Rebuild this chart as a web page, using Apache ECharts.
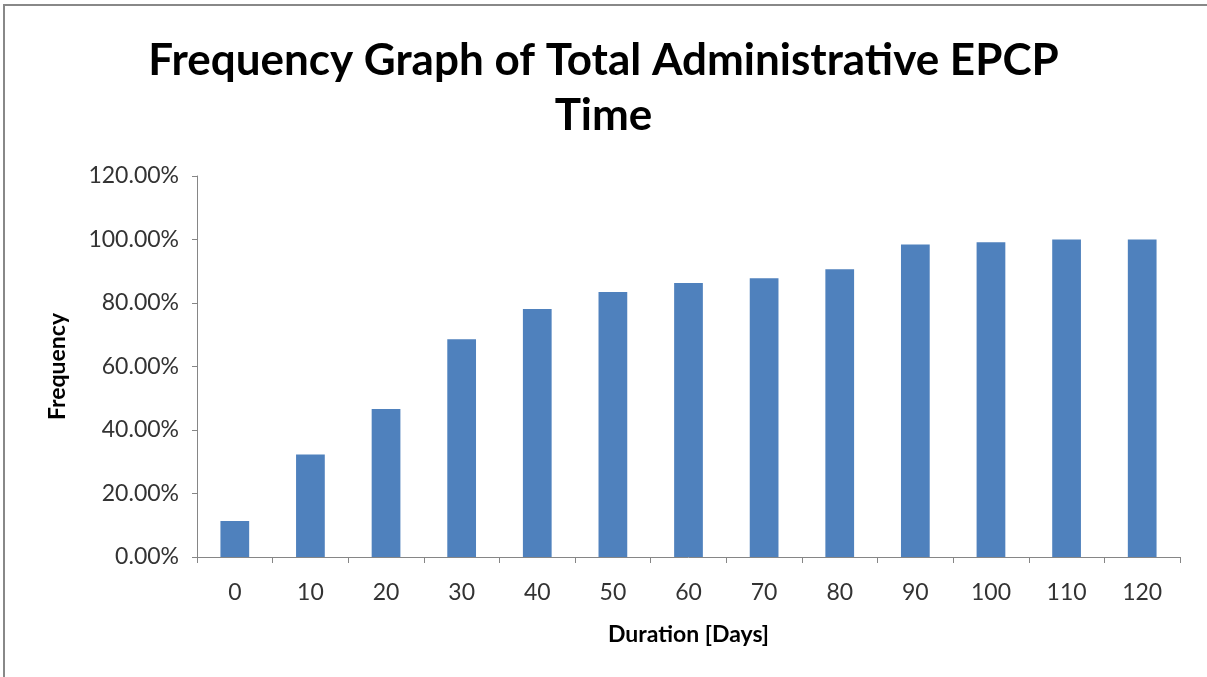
<!DOCTYPE html>
<html>
<head>
<meta charset="utf-8">
<script src="https://cdn.jsdelivr.net/npm/echarts@6/dist/echarts.min.js"></script>
<style>
  html, body { margin: 0; padding: 0; background: #fff; }
  #chart { width: 1207px; height: 677px; }
</style>
</head>
<body>
<div id="chart"></div>
<script>
  // duration buckets (days) and cumulative frequency (%)
  const days = ['0', '10', '20', '30', '40', '50', '60', '70', '80', '90', '100', '110', '120'];
  const frequency = [11.3, 32.3, 46.6, 68.6, 78.1, 83.5, 86.3, 87.8, 90.6, 98.4, 99.1, 100, 100];
  const yTicks = [0, 20, 40, 60, 80, 100, 120];

  const chart = echarts.init(document.getElementById('chart'));
  const font = 'Lato, "Open Sans", sans-serif';

  chart.setOption({
    animation: false,
    title: {
      text: 'Frequency Graph of Total Administrative EPCP\nTime',
      left: 'center',
      top: 28,
      textStyle: {
        fontFamily: font,
        fontWeight: 'bold',
        fontSize: 44,
        lineHeight: 55,
        color: '#000'
      }
    },
    graphic: [{
      type: 'polyline',
      shape: { points: [[4, 677], [4, 5], [1207, 5]] },
      style: { stroke: '#888', lineWidth: 2, fill: null }
    }],
    grid: { left: 197, right: 27, top: 176, bottom: 120 },
    xAxis: {
      type: 'category',
      data: days,
      name: 'Duration [Days]',
      nameLocation: 'middle',
      nameGap: 66,
      nameTextStyle: { fontFamily: font, fontWeight: 'bold', fontSize: 23, color: '#000' },
      axisLine: { lineStyle: { color: '#868686', width: 1 } },
      axisTick: { show: true, length: 6, lineStyle: { color: '#868686' } },
      axisLabel: { fontFamily: font, fontSize: 23, color: '#333', margin: 24 }
    },
    yAxis: {
      type: 'value',
      min: yTicks[0],
      max: yTicks[yTicks.length - 1],
      interval: 20,
      name: 'Frequency',
      nameLocation: 'middle',
      nameGap: 128,
      nameRotate: 90,
      nameTextStyle: { fontFamily: font, fontWeight: 'bold', fontSize: 23, color: '#000' },
      splitLine: { show: false },
      axisLine: { show: true, lineStyle: { color: '#868686', width: 1 } },
      axisTick: { show: true, length: 5, lineStyle: { color: '#868686' } },
      axisLabel: {
        fontFamily: font, fontSize: 23, color: '#333', margin: 18,
        formatter: v => v.toFixed(2) + '%'
      }
    },
    series: [{
      type: 'bar',
      data: frequency,
      barWidth: '38%',
      itemStyle: { color: '#4F81BD' }
    }]
  });
</script>
</body>
</html>
